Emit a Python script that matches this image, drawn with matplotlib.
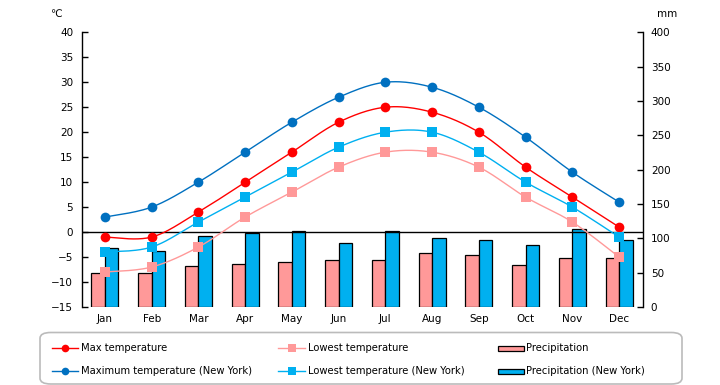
import numpy as np
import matplotlib.pyplot as plt
from matplotlib.lines import Line2D
from matplotlib.patches import Rectangle, FancyBboxPatch

months = ['Jan', 'Feb', 'Mar', 'Apr', 'May', 'Jun', 'Jul', 'Aug', 'Sep', 'Oct', 'Nov', 'Dec']

max_temp = [-1, -1, 4, 10, 16, 22, 25, 24, 20, 13, 7, 1]
low_temp = [-8, -7, -3, 3, 8, 13, 16, 16, 13, 7, 2, -5]
max_temp_ny = [3, 5, 10, 16, 22, 27, 30, 29, 25, 19, 12, 6]
low_temp_ny = [-4, -3, 2, 7, 12, 17, 20, 20, 16, 10, 5, -1]

precip = [50, 50, 59, 62, 66, 68, 69, 79, 75, 61, 71, 72]
precip_ny = [86, 82, 104, 108, 111, 93, 110, 101, 98, 90, 114, 98]

C_RED = '#FF0000'
C_PINK = '#FF9999'
C_DBLUE = '#0070C0'
C_LBLUE = '#00B0F0'


# courbe lissee (catmull-rom) entre les points, comme les lignes lissees d'excel
def smooth(x, y, n=24):
    x = np.asarray(x, float)
    y = np.asarray(y, float)
    px = np.concatenate([[x[0]], x, [x[-1]]])
    py = np.concatenate([[y[0]], y, [y[-1]]])
    xs, ys = [], []
    t = np.linspace(0, 1, n)
    for i in range(1, len(px) - 2):
        p0, p1, p2, p3 = (np.array([px[j], py[j]]) for j in (i - 1, i, i + 1, i + 2))
        c1 = p1 + (p2 - p0) / 6
        c2 = p2 - (p3 - p1) / 6
        b = ((1 - t) ** 3)[:, None] * p1 + (3 * (1 - t) ** 2 * t)[:, None] * c1 \
            + (3 * (1 - t) * t ** 2)[:, None] * c2 + (t ** 3)[:, None] * p2
        xs.append(b[:, 0])
        ys.append(b[:, 1])
    return np.concatenate(xs), np.concatenate(ys)


plt.rcParams['font.family'] = ['DejaVu Sans']
FS = 7.5

fig = plt.figure(figsize=(7.2, 3.85), dpi=100)
ax = fig.add_axes([81.5 / 720, 1 - 307 / 385, (642.5 - 81.5) / 720, (307 - 32.3) / 385])
ax2 = ax.twinx()

x = np.arange(len(months))
w = 0.29

ax2.set_facecolor('#FFFFCC')
ax2.bar(x - w / 2, precip, w, color=C_PINK, edgecolor='black', linewidth=0.9)
ax2.bar(x + w / 2, precip_ny, w, color=C_LBLUE, edgecolor='black', linewidth=0.9)
ax2.set_ylim(0, 400)
ax2.set_yticks(np.arange(0, 401, 50))

ax.set_zorder(ax2.get_zorder() + 1)
ax.patch.set_visible(False)

ax.axhline(0, color='black', linewidth=1.0, zorder=1)

series = [
    (max_temp_ny, C_DBLUE, 'o', 7),
    (max_temp, C_RED, 'o', 7),
    (low_temp_ny, C_LBLUE, 's', 6.5),
    (low_temp, C_PINK, 's', 6.5),
]
for vals, col, mk, ms in series:
    sx, sy = smooth(x, vals)
    ax.plot(sx, sy, color=col, linewidth=1.0, zorder=2)
    ax.plot(x, vals, linestyle='none', marker=mk, markersize=ms, color=col,
            markeredgewidth=0, zorder=3)

ax.set_xlim(-0.5, 11.5)
ax.set_ylim(-15, 40)
ax.set_yticks(np.arange(-15, 41, 5))
ax.set_xticks(x)
ax.set_xticklabels(months)

for a in (ax, ax2):
    for s in ('top', 'bottom'):
        a.spines[s].set_visible(False)
    a.spines['left'].set_linewidth(1.0)
    a.spines['right'].set_linewidth(1.0)
ax.spines['right'].set_visible(False)
ax2.spines['left'].set_visible(False)

ax.tick_params(axis='y', direction='in', length=4, width=1, labelsize=FS, pad=6)
ax.tick_params(axis='x', length=0, labelsize=FS, pad=5)
ax2.tick_params(axis='y', direction='in', length=4, width=1, labelsize=FS, pad=6)

fig.text(50 / 720, 1 - 14 / 385, '℃', fontsize=FS, va='center', ha='left')
fig.text(657 / 720, 1 - 14 / 385, 'mm', fontsize=FS, va='center', ha='left')

# legende dessinee a la main
box = FancyBboxPatch((40 / 720, 1 - 384 / 385), (682 - 40) / 720, (384 - 332.5) / 385,
                     boxstyle='round,pad=0,rounding_size=0.015', transform=fig.transFigure,
                     facecolor='white', edgecolor='#BBBBBB', linewidth=1.2)
fig.patches.append(box)

rows = [348.3, 371]
entries = [
    (0, 0, 'line', C_RED, 'o', 'Max temperature'),
    (0, 1, 'line', C_DBLUE, 'o', 'Maximum temperature (New York)'),
    (1, 0, 'line', C_PINK, 's', 'Lowest temperature'),
    (1, 1, 'line', C_LBLUE, 's', 'Lowest temperature (New York)'),
    (2, 0, 'bar', C_PINK, None, 'Precipitation'),
    (2, 1, 'bar', C_LBLUE, None, 'Precipitation (New York)'),
]
cols = [(51.7, 78.3, 81), (278.3, 305, 308.3), (498.3, 524.3, 526)]
for c, r, kind, col, mk, label in entries:
    x0, x1, tx = cols[c]
    yy = 1 - rows[r] / 385
    if kind == 'line':
        fig.add_artist(Line2D([x0 / 720, x1 / 720], [yy, yy], color=col, linewidth=1.0,
                              transform=fig.transFigure))
        fig.add_artist(Line2D([(x0 + x1) / 2 / 720], [yy], color=col, marker=mk,
                              markersize=5.5, markeredgewidth=0, transform=fig.transFigure))
    else:
        fig.patches.append(Rectangle((x0 / 720, yy - 2.5 / 385), (x1 - x0) / 720, 5 / 385,
                                     facecolor=col, edgecolor='black', linewidth=0.9,
                                     transform=fig.transFigure))
    fig.text(tx / 720, yy, label, fontsize=7.2, va='center', ha='left')

fig.savefig('out.png', dpi=100)
